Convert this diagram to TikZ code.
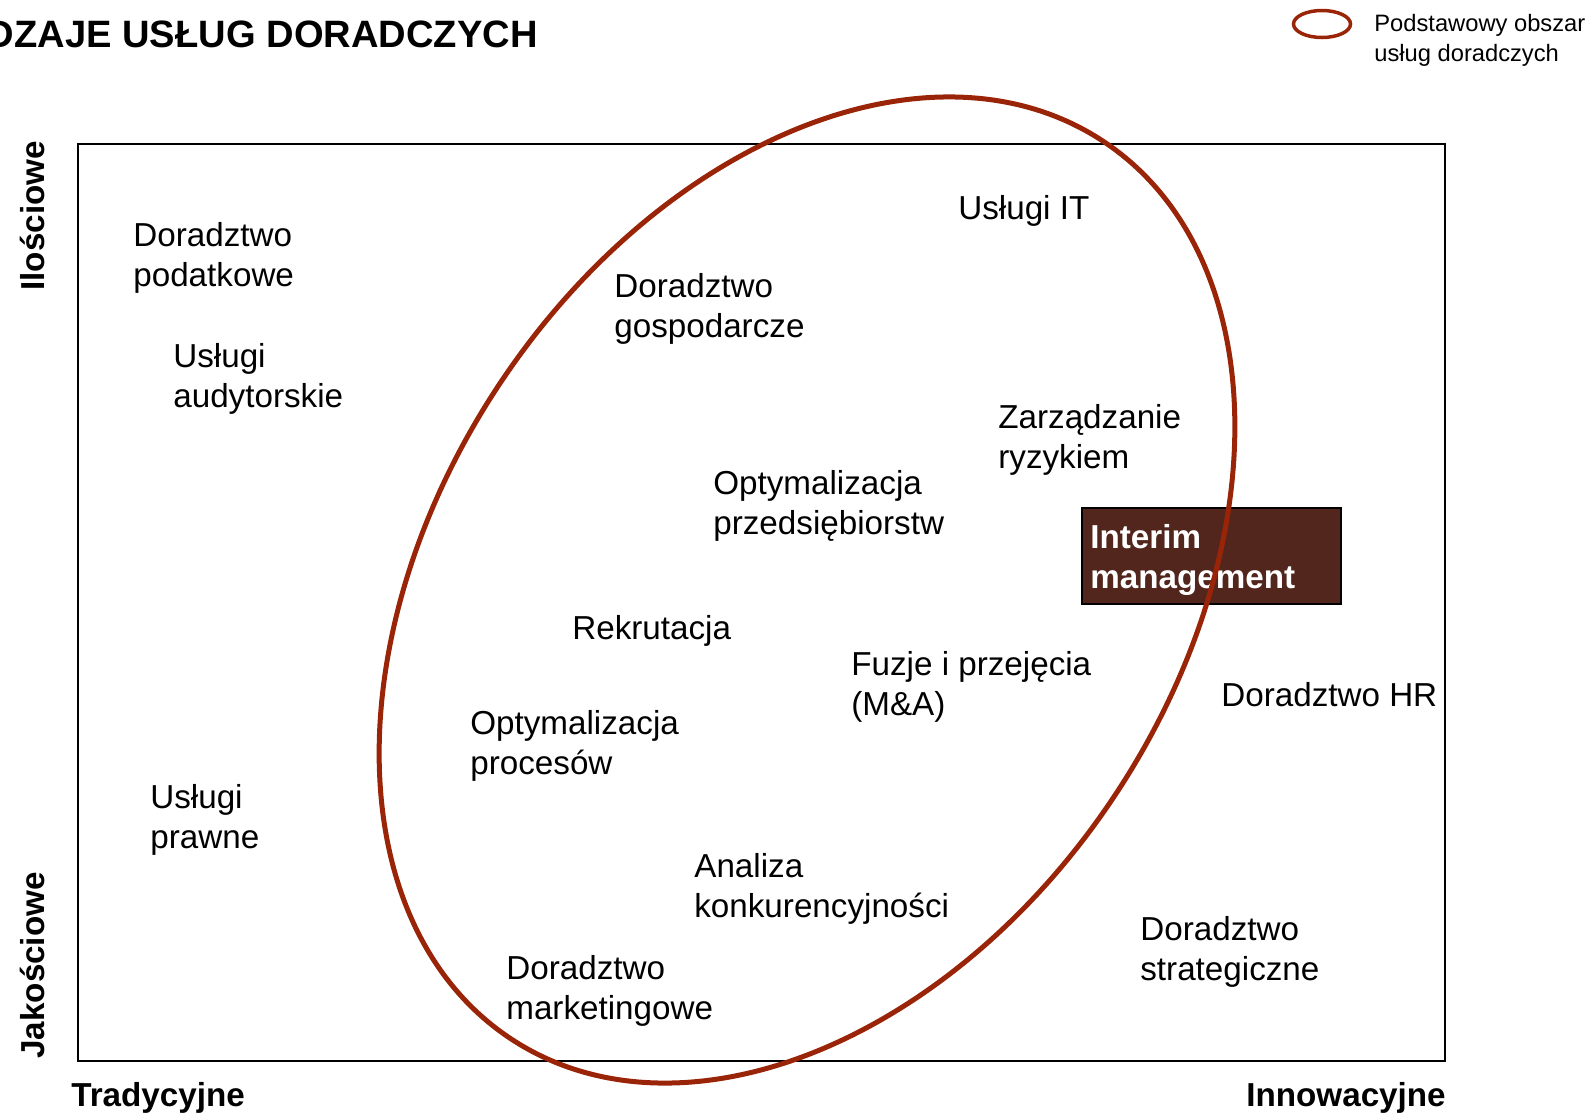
\documentclass[tikz,border=0pt]{standalone}
\usepackage{fontspec}
\setmainfont{Liberation Sans}
\definecolor{ovalred}{RGB}{153,36,8}
\definecolor{boxbrown}{RGB}{82,38,28}
\tikzset{
	lbl/.style={anchor=base west, inner sep=0pt, align=left, font=\fontsize{18.9}{22.7}\selectfont},
	axislbl/.style={inner sep=0pt, font=\fontsize{18.9}{22.7}\selectfont\bfseries},
}

\begin{document}
\begin{tikzpicture}[x=0.02cm, y=-0.02cm]
			%%%%% START %%%%%
			\useasboundingbox (0, 0) rectangle (1592, 1113);
			
			\begin{scope}
				\clip (0, 0) rectangle (1592, 1113);
				\node[anchor=base east, inner sep=0pt, font=\fontsize{21.7}{26}\selectfont\bfseries] (title) at (538, 47) {RODZAJE USŁUG DORADCZYCH};
			\end{scope}
			
			% legend (base = last line)
			\draw[line width=0.7mm, color=ovalred] (1322, 24) ellipse [x radius=28.5, y radius=13.5];
			\node[anchor=base west, inner sep=0pt, align=left, font=\fontsize{13.5}{16.7}\selectfont] (legend) at (1374, 61) {Podstawowy obszar\\usług doradczych};
			
			% frame
			\draw[line width=0.3mm] (78, 144) rectangle (1445, 1061);
			
			% two-line labels sit on the baseline of their last line
			\node[lbl] (podatki) at (133, 286) {Doradztwo\\podatkowe};
			\node[lbl] (audyt) at (173, 407) {Usługi\\audytorskie};
			\node[lbl] (it) at (958, 219) {Usługi IT};
			\node[lbl] (gosp) at (614, 337) {Doradztwo\\gospodarcze};
			\node[lbl] (ryzyko) at (998, 468) {Zarządzanie\\ryzykiem};
			\node[lbl] (optprz) at (713, 534) {Optymalizacja\\przedsiębiorstw};
			\node[lbl] (rekr) at (572, 639) {Rekrutacja};
			\node[lbl] (fuzje) at (851, 715) {Fuzje i przejęcia\\(M\&A)};
			\node[lbl] (hr) at (1221, 706) {Doradztwo HR};
			\node[lbl] (optproc) at (470, 774) {Optymalizacja\\procesów};
			\node[lbl] (prawo) at (150, 848) {Usługi\\prawne};
			\node[lbl] (konk) at (694, 917) {Analiza\\konkurencyjności};
			\node[lbl] (strat) at (1140, 980) {Doradztwo\\strategiczne};
			\node[lbl] (mark) at (506, 1019) {Doradztwo\\marketingowe};
			
			% interim box
			\draw[line width=0.3mm, fill=boxbrown] (1082, 508) rectangle (1341, 604);
			\node[lbl, text=white, font=\fontsize{18.9}{22.7}\selectfont\bfseries] (interim) at (1090, 588) {Interim\\management};
			
			% main area
			\draw[line width=1mm, color=ovalred, rotate around={56.6:(807, 590)}] (807, 590) ellipse [x radius=537.7, y radius=370.1];
			
			% axes
			\node[axislbl, anchor=base west] (trad) at (71, 1106) {Tradycyjne};
			\node[axislbl, anchor=base east] (innow) at (1446, 1106) {Innowacyjne};
			\node[axislbl, anchor=base west, rotate=90] (ilosc) at (44, 291) {Ilościowe};
			\node[axislbl, anchor=base west, rotate=90] (jakosc) at (44, 1059) {Jakościowe};
			%%%%% END %%%%%
\end{tikzpicture}
\end{document}
